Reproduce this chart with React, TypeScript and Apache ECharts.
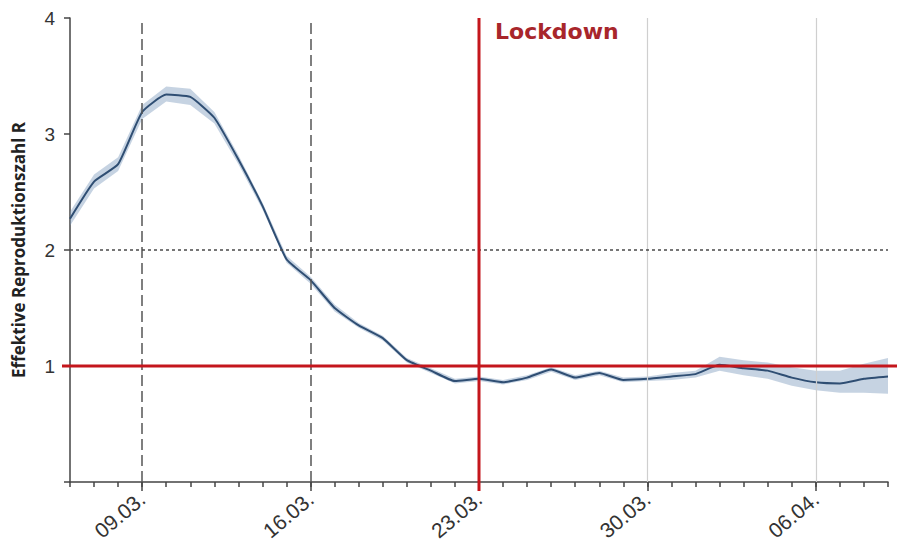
import React, { useEffect, useRef } from "react";
import * as echarts from "echarts";

// Daily dates, 06.03. – 09.04.
const dates = [
  "06.03.", "07.03.", "08.03.", "09.03.", "10.03.", "11.03.", "12.03.",
  "13.03.", "14.03.", "15.03.", "16.03.", "17.03.", "18.03.", "19.03.",
  "20.03.", "21.03.", "22.03.", "23.03.", "24.03.", "25.03.", "26.03.",
  "27.03.", "28.03.", "29.03.", "30.03.", "31.03.", "01.04.", "02.04.",
  "03.04.", "04.04.", "05.04.", "06.04.", "07.04.", "08.04.", "09.04.",
];

// Estimated effective reproduction number R
const rValues = [
  2.27, 2.59, 2.74, 3.19, 3.34, 3.32, 3.14, 2.78, 2.38, 1.92, 1.74, 1.5,
  1.35, 1.24, 1.05, 0.96, 0.87, 0.89, 0.86, 0.9, 0.97, 0.9, 0.94, 0.88,
  0.89, 0.91, 0.93, 1.01, 0.98, 0.96, 0.9, 0.86, 0.85, 0.89, 0.91,
];

// 95% interval bounds
const rLower = [
  2.21, 2.53, 2.68, 3.13, 3.28, 3.25, 3.09, 2.74, 2.35, 1.89, 1.71, 1.47,
  1.33, 1.22, 1.03, 0.94, 0.85, 0.87, 0.84, 0.88, 0.95, 0.88, 0.92, 0.86,
  0.87, 0.88, 0.9, 0.96, 0.92, 0.89, 0.83, 0.79, 0.77, 0.77, 0.76,
];
const rUpper = [
  2.33, 2.65, 2.8, 3.25, 3.41, 3.39, 3.19, 2.82, 2.41, 1.95, 1.77, 1.53,
  1.37, 1.26, 1.07, 0.98, 0.89, 0.91, 0.88, 0.92, 0.99, 0.92, 0.96, 0.9,
  0.91, 0.94, 0.96, 1.08, 1.05, 1.03, 0.99, 0.96, 0.96, 1.02, 1.07,
];

// Week marks and reference lines
const weekDates = ["09.03.", "16.03.", "23.03.", "30.03.", "06.04."];
const lockdownDate = "23.03.";
const dashedDates = ["09.03.", "16.03."];
const lightDates = ["30.03.", "06.04."];
const thresholdR = 1;
const dottedR = 2;
const yTicks = [1, 2, 3, 4];

const FONT = "'Liberation Sans', Arial, sans-serif";
const RED = "#c4161c";

export default function App() {
  const ref = useRef<HTMLDivElement>(null);

  useEffect(() => {
    if (!ref.current) return;
    const chart = echarts.init(ref.current, undefined, { renderer: "svg" });
    const isWeek = (i: number) => weekDates.includes(dates[i]);
    const band = rUpper.map((u, i) => +(u - rLower[i]).toFixed(3));

    chart.setOption({
      animation: false,
      backgroundColor: "#ffffff",
      grid: {
        left: 70,
        right: 18,
        top: 18,
        bottom: 70,
        containLabel: false,
        outerBoundsMode: "none",
      },
      xAxis: [
        {
          type: "category",
          data: dates,
          boundaryGap: false,
          axisLine: { lineStyle: { color: "#444", width: 1.5 } },
          axisTick: { show: true, interval: 0, length: 5, lineStyle: { color: "#444", width: 1.5 } },
          axisLabel: { show: false },
          splitLine: { show: false },
        },
        {
          type: "category",
          data: dates,
          boundaryGap: false,
          position: "bottom",
          axisLine: { show: false },
          axisTick: {
            show: true,
            interval: (i: number) => isWeek(i),
            length: 9,
            lineStyle: { color: "#444", width: 1.5 },
          },
          axisLabel: {
            show: true,
            interval: (i: number) => isWeek(i),
            rotate: 40,
            margin: 14,
            fontSize: 21,
            color: "#333",
            fontFamily: FONT,
          },
          splitLine: { show: false },
        },
      ],
      yAxis: {
        type: "value",
        min: 0,
        max: 4,
        interval: 1,
        name: "Effektive Reproduktionszahl R",
        nameLocation: "middle",
        nameRotate: 90,
        nameGap: 43,
        nameMoveOverlap: false,
        nameTextStyle: {
          fontSize: 17,
          fontWeight: "bold",
          color: "#222",
          fontFamily: "'Open Sans', sans-serif",
        },
        axisLine: { show: true, lineStyle: { color: "#444", width: 1.5 } },
        axisTick: { show: true, length: 6, lineStyle: { color: "#444", width: 1.5 } },
        axisLabel: {
          fontSize: 19,
          color: "#333",
          margin: 15,
          fontFamily: FONT,
          formatter: (v: number) => (yTicks.includes(v) ? String(v) : ""),
        },
        splitLine: { show: false },
      },
      series: [
        {
          name: "lower",
          type: "line",
          data: rLower,
          stack: "ci",
          symbol: "none",
          lineStyle: { opacity: 0 },
          silent: true,
          z: 1,
        },
        {
          name: "band",
          type: "line",
          data: band,
          stack: "ci",
          symbol: "none",
          lineStyle: { opacity: 0 },
          areaStyle: { color: "rgba(120,150,185,0.6)" },
          silent: true,
          z: 1,
        },
        {
          name: "R",
          type: "line",
          data: rValues,
          symbol: "none",
          smooth: 0.15,
          lineStyle: { color: "#2f4e73", width: 2 },
          z: 3,
          markLine: {
            silent: true,
            symbol: "none",
            label: { show: false },
            data: [
              ...dashedDates.map((d) => ({
                xAxis: d,
                lineStyle: { color: "#555", width: 1.5, type: [11, 5] },
              })),
              ...lightDates.map((d) => ({
                xAxis: d,
                lineStyle: { color: "#cfcfcf", width: 1.2, type: "solid" },
              })),
              {
                yAxis: dottedR,
                lineStyle: { color: "#4a4a4a", width: 1.5, type: [3, 3] },
              },
            ],
          },
        },
      ],
    });

    // Threshold and lockdown lines run a little past the plot frame
    const yOne = chart.convertToPixel({ yAxisIndex: 0 }, thresholdR) as number;
    const yTop = chart.convertToPixel({ yAxisIndex: 0 }, 4) as number;
    const yZero = chart.convertToPixel({ yAxisIndex: 0 }, 0) as number;
    const xLock = chart.convertToPixel({ xAxisIndex: 0 }, lockdownDate) as number;

    chart.setOption({
      graphic: [
        {
          type: "line",
          z: 10,
          shape: { x1: 62, y1: yOne, x2: 897, y2: yOne },
          style: { stroke: RED, lineWidth: 3 },
        },
        {
          type: "line",
          z: 10,
          shape: { x1: xLock, y1: yTop, x2: xLock, y2: yZero + 9 },
          style: { stroke: RED, lineWidth: 3 },
        },
        {
          type: "text",
          z: 10,
          x: xLock + 16,
          y: 20,
          style: {
            text: "Lockdown",
            fill: "#a8262b",
            font: "bold 22px 'DejaVu Sans', Verdana, sans-serif",
          },
        },
      ],
    });

    return () => chart.dispose();
  }, []);

  return (
    <div
      ref={ref}
      style={{ position: "fixed", left: 0, top: 0, width: 906, height: 552 }}
    />
  );
}
